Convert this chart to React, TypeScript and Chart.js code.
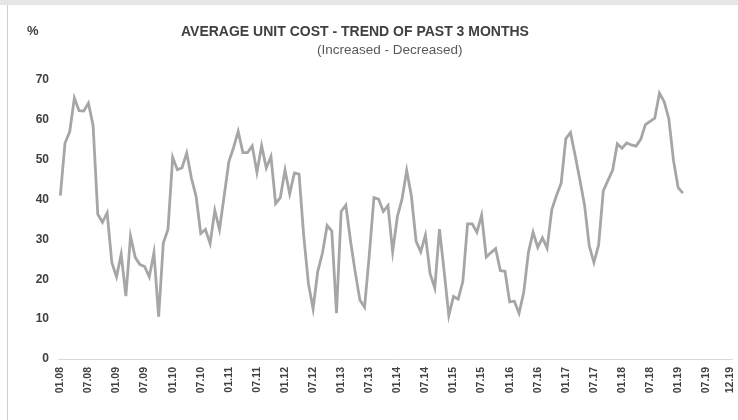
import React, { useEffect, useRef } from "react";
import { Chart, registerables } from "chart.js";

Chart.register(...registerables);

const YEARS = ["08", "09", "10", "11", "12", "13", "14", "15", "16", "17", "18", "19"];
const MONTHS = ["01", "02", "03", "04", "05", "06", "07", "08", "09", "10", "11", "12"];
const categories: string[] = [];
YEARS.forEach((y) => MONTHS.forEach((m) => categories.push(m + "." + y)));

const unitCostTrend = [
  41, 54.2, 57, 65.5, 62.3, 62.2, 64.2, 58.6, 36.3, 34.3,
  36.7, 24.2, 20.6, 26.3, 15.8, 30.8, 25.5, 23.7, 23.2, 20.6,
  26.7, 10.6, 29.1, 32.5, 50.6, 47.5, 48, 51.7, 45.4, 40.8,
  31.5, 32.5, 29, 37.3, 32.5, 40.9, 49.5, 53, 57.1, 51.8,
  51.8, 53.5, 46.8, 53.5, 47.9, 50.8, 39, 40.5, 47.4, 41.4,
  46.7, 46.4, 30.9, 18.9, 12.6, 22, 26.6, 33.5, 32.1, 11.5,
  37, 38.6, 29.6, 21.8, 14.8, 13, 26, 40.5, 40.1, 37,
  38.5, 26.9, 35.7, 40.1, 47.3, 40.9, 29.6, 26.9, 31.1, 21.4,
  17.8, 32.6, 22, 10.9, 15.7, 15, 19.5, 33.9, 33.9, 31.8,
  36.1, 25.6, 26.7, 27.7, 22.2, 22, 14.3, 14.5, 11.5, 16.7,
  26.7, 31.8, 28, 30.4, 27.8, 37.5, 41, 44.1, 55.3, 56.8,
  51, 44.9, 38.6, 28.4, 24.2, 28.6, 42.2, 44.8, 47.4, 54,
  52.9, 54.2, 53.7, 53.4, 55.1, 58.8, 59.6, 60.4, 66.7, 64.6,
  60.3, 49.8, 43, 41.6,
];

const Y_MIN = 0;
const Y_MAX = 70;
const Y_STEP = 10;

const TITLE = "AVERAGE UNIT COST - TREND OF PAST 3 MONTHS";
const SUBTITLE = "(Increased - Decreased)";
const UNIT = "%";

export default function App() {
  const canvasRef = useRef<HTMLCanvasElement | null>(null);

  useEffect(() => {
    if (!canvasRef.current) return;
    const lastIdx = categories.length - 1;
    const chart = new Chart(canvasRef.current, {
      type: "line",
      data: {
        labels: categories,
        datasets: [
          {
            data: unitCostTrend,
            borderColor: "#a6a6a6",
            borderWidth: 2.8,
            pointRadius: 0,
            tension: 0,
            fill: false,
          },
        ],
      },
      options: {
        animation: false,
        responsive: false,
        maintainAspectRatio: false,
        layout: { padding: { left: 0, top: 80, right: 6, bottom: 0 } },
        plugins: {
          legend: { display: false },
          tooltip: { enabled: false },
          title: { display: false },
        },
        scales: {
          x: {
            type: "category",
            offset: true,
            grid: { display: false, drawTicks: false },
            border: { display: true, color: "#d9d9d9", width: 1 },
            ticks: {
              autoSkip: false,
              maxRotation: 90,
              minRotation: 90,
              padding: 8,
              color: "#404040",
              font: { family: "'Liberation Sans', Arial, sans-serif", size: 10.5, weight: "bold" },
              callback: (_v: any, i: number) =>
                i % 6 === 0 || i === lastIdx ? categories[i] : "",
            },
            afterFit: (scale: any) => {
              scale.height = 61;
              scale.paddingLeft = 0;
              scale.paddingRight = 0;
            },
          },
          y: {
            min: Y_MIN,
            max: Y_MAX,
            grid: { display: false, drawTicks: false },
            border: { display: false },
            ticks: {
              stepSize: Y_STEP,
              padding: 9,
              color: "#404040",
              font: { family: "'Liberation Sans', Arial, sans-serif", size: 12, weight: "bold" },
            },
            afterFit: (scale: any) => {
              scale.width = 58;
              scale.paddingTop = 0;
              scale.paddingBottom = 0;
            },
          },
        },
      },
    });
    return () => chart.destroy();
  }, []);

  const font = "'Liberation Sans', Arial, sans-serif";
  return (
    <div
      style={{
        position: "absolute",
        left: 0,
        top: 0,
        width: 738,
        height: 420,
        background: "#ffffff",
        overflow: "hidden",
        fontFamily: font,
      }}
    >
      <div style={{ position: "absolute", left: 0, top: 0, width: 738, height: 5, background: "#e6e6e6" }} />
      <div style={{ position: "absolute", left: 7, top: 5, width: 1, height: 415, background: "#cfcfcf" }} />
      <canvas
        ref={canvasRef}
        width={738}
        height={420}
        style={{ position: "absolute", left: 0, top: 0, width: 738, height: 420 }}
      />
      <div
        style={{
          position: "absolute",
          left: 27,
          top: 23,
          fontSize: 13,
          lineHeight: "16px",
          fontWeight: "bold",
          color: "#404040",
          whiteSpace: "nowrap",
        }}
      >
        {UNIT}
      </div>
      <div
        style={{
          position: "absolute",
          left: 181,
          top: 23,
          fontSize: 14,
          lineHeight: "16px",
          fontWeight: "bold",
          color: "#404040",
          whiteSpace: "nowrap",
        }}
      >
        {TITLE}
      </div>
      <div
        style={{
          position: "absolute",
          left: 317,
          top: 42,
          fontSize: 13.5,
          lineHeight: "16px",
          color: "#595959",
          whiteSpace: "nowrap",
        }}
      >
        {SUBTITLE}
      </div>
    </div>
  );
}
